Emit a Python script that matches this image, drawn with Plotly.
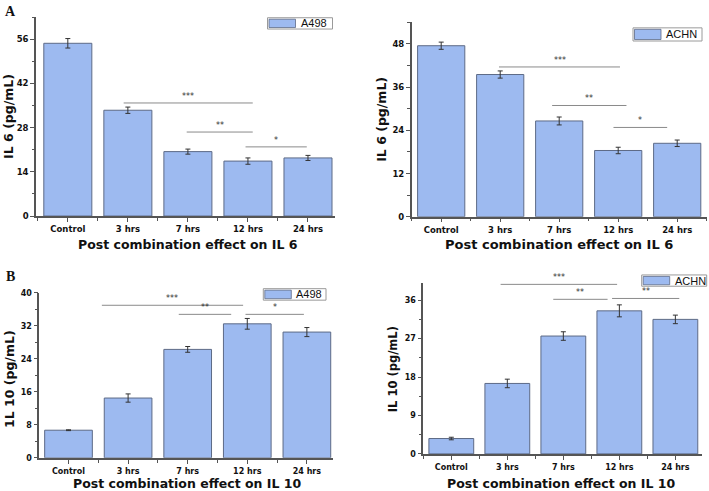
import plotly.graph_objects as go

W, H = 709, 491

categories = ["Control", "3 hrs", "7 hrs", "12 hrs", "24 hrs"]

# Panel A: IL 6
il6_a498 = [54.7, 33.5, 20.4, 17.4, 18.4]
il6_a498_err = [1.5, 1.0, 0.8, 1.0, 0.8]
il6_achn = [47.5, 39.5, 26.6, 18.4, 20.4]
il6_achn_err = [1.0, 1.0, 1.1, 0.9, 0.9]

# Panel B: IL 10
il10_a498 = [6.7, 14.5, 26.3, 32.5, 30.5]
il10_a498_err = [0.1, 1.0, 0.7, 1.3, 1.1]
il10_achn = [3.6, 16.5, 27.6, 33.5, 31.5]
il10_achn_err = [0.3, 1.0, 1.0, 1.4, 1.0]

# significance brackets: (start index, end index, height, label)
sig_il6_a498 = [(0.93, 3.08, 35.8, "***"), (1.98, 3.08, 26.6, "**"), (2.96, 3.98, 21.9, "*")]
sig_il6_achn = [(0.98, 3.03, 41.6, "***"), (1.88, 3.14, 30.9, "**"), (2.92, 3.83, 24.8, "*")]
sig_il10_a498 = [(0.56, 2.93, 37.0, "***"), (1.85, 2.73, 34.8, "**"), (2.97, 3.95, 34.8, "*")]
sig_il10_achn = [(0.88, 2.96, 39.7, "***"), (1.82, 2.79, 36.2, "**"), (2.87, 4.07, 36.4, "**")]


def px(x):
    return x / W


def py(y):
    return 1 - y / H


BAR = "#9dbaf0"
EDGE = "#5d6a86"
AXC = "#555555"
FONT = "DejaVu Sans"
LFONT = "Liberation Sans"

panels = [
    dict(vals=il6_a498, err=il6_a498_err, sig=sig_il6_a498, name="A498",
         xd=(36, 335), yd=(13, 216), xr=(-0.53, 4.45), yr=(0, 63.1), dt=14,
         ytitle="IL 6 (pg/mL)", ytx=(9, 115), ytsize=12.5,
         xtitle="Post combination effect on IL 6", xtx=(188, 244.5), xtsize=12.5,
         leg=(267.5, 14, 332.5, 25.5), ticksize=8.5, standoff=0),
    dict(vals=il6_achn, err=il6_achn_err, sig=sig_il6_achn, name="ACHN",
         xd=(411.7, 706.7), yd=(18.3, 216.7), xr=(-0.5, 4.5), yr=(0, 54.1), dt=12,
         ytitle="IL 6 (pg/mL)", ytx=(382, 118), ytsize=12.5,
         xtitle="Post combination effect on IL 6", xtx=(559, 244.5), xtsize=13,
         leg=(633, 24.3, 702, 37.7), ticksize=8.5, standoff=0),
    dict(vals=il10_a498, err=il10_a498_err, sig=sig_il10_a498, name="A498",
         xd=(39.3, 333.1), yd=(294.3, 462.3), xr=(-0.49, 4.44), yr=(0, 40), dt=8,
         ytitle="1L 10 (pg/mL)", ytx=(10, 382), ytsize=12.5,
         xtitle="Post combination effect on IL 10", xtx=(187.5, 488.5), xtsize=12.5,
         leg=(263.3, 290, 326, 301.7), ticksize=8, standoff=1),
    dict(vals=il10_achn, err=il10_achn_err, sig=sig_il10_achn, name="ACHN",
         xd=(423.3, 701.7), yd=(284.3, 458.3), xr=(-0.5, 4.47), yr=(0, 40), dt=9,
         ytitle="IL 10 (pg/mL)", ytx=(393, 372), ytsize=11.5,
         xtitle="Post combination effect on IL 10", xtx=(561, 488), xtsize=12.5,
         leg=(641.7, 276, 706.7, 287.5), ticksize=8, standoff=1),
]

fig = go.Figure()
shapes = []
annotations = []
xidx = list(range(len(categories)))

for i, p in enumerate(panels):
    n = "" if i == 0 else str(i + 1)
    xa, ya = "x" + n, "y" + n
    fig.add_trace(go.Bar(
        x=xidx, y=p["vals"], width=0.8, name=p["name"],
        marker=dict(color=BAR, line=dict(color=EDGE, width=1)),
        error_y=dict(type="data", array=p["err"], color="#333333", thickness=1, width=2.5),
        xaxis=xa, yaxis=ya, showlegend=False,
    ))
    tickfont = dict(family=FONT, size=p["ticksize"], color="#111111", weight="bold")
    fig.layout["xaxis" + n] = dict(
        domain=[px(p["xd"][0]), px(p["xd"][1])], range=list(p["xr"]), anchor=ya,
        tickvals=xidx, ticktext=categories, ticks="outside", ticklen=4, tickcolor=AXC,
        showline=True, linecolor=AXC, linewidth=1.5, showgrid=False, zeroline=False,
        tickfont=tickfont, ticklabelstandoff=p["standoff"],
        minor=dict(tickvals=[k + 0.5 for k in range(-1, len(categories))], ticks="outside",
                   ticklen=3, tickcolor=AXC, showgrid=False),
    )
    fig.layout["yaxis" + n] = dict(
        domain=[py(p["yd"][1]), py(p["yd"][0])], range=list(p["yr"]), anchor=xa,
        dtick=p["dt"], tick0=0, ticks="outside", ticklen=4, tickcolor=AXC,
        showline=True, linecolor=AXC, linewidth=1.5, showgrid=False, zeroline=False,
        tickfont=tickfont,
        minor=dict(dtick=p["dt"] / 2, tick0=0, ticks="outside", ticklen=2.5,
                   tickcolor=AXC, showgrid=False),
    )
    # significance brackets
    for (x0, x1, yv, lab) in p["sig"]:
        shapes.append(dict(type="line", xref=xa, yref=ya, x0=x0, x1=x1, y0=yv, y1=yv,
                           line=dict(color="#8a8a8a", width=1)))
        annotations.append(dict(xref=xa, yref=ya, x=(x0 + x1) / 2, y=yv, text=lab,
                                showarrow=False, yanchor="bottom", yshift=0,
                                font=dict(family=FONT, size=8, color="#333333")))
    # legend box
    lx0, ly0, lx1, ly1 = p["leg"]
    shapes.append(dict(type="rect", xref="paper", yref="paper",
                       x0=px(lx0), x1=px(lx1), y0=py(ly1), y1=py(ly0),
                       line=dict(color="#9a9a9a", width=1), fillcolor="white"))
    shapes.append(dict(type="rect", xref="paper", yref="paper",
                       x0=px(lx0 + 1.5), x1=px(lx0 + 28), y0=py(ly1 - 1.5), y1=py(ly0 + 1.5),
                       line=dict(color=EDGE, width=0.8), fillcolor=BAR))
    annotations.append(dict(xref="paper", yref="paper", x=px(lx0 + 31), y=py((ly0 + ly1) / 2),
                            text=p["name"], showarrow=False, xanchor="left", yanchor="middle",
                            font=dict(family=LFONT, size=11, color="#111111")))
    # axis titles
    annotations.append(dict(xref="paper", yref="paper", x=px(p["ytx"][0]), y=py(p["ytx"][1]),
                            text=p["ytitle"], showarrow=False, textangle=-90,
                            xanchor="center", yanchor="middle",
                            font=dict(family=FONT, size=p["ytsize"], color="#111111", weight="bold")))
    annotations.append(dict(xref="paper", yref="paper", x=px(p["xtx"][0]), y=py(p["xtx"][1]),
                            text=p["xtitle"], showarrow=False, borderpad=0,
                            xanchor="center", yanchor="middle",
                            font=dict(family=FONT, size=p["xtsize"], color="#111111", weight="bold")))

# panel letters
annotations.append(dict(xref="paper", yref="paper", x=px(10), y=py(8), text="A", showarrow=False,
                        xanchor="center", yanchor="middle",
                        font=dict(family="Liberation Serif", size=14, color="#111111", weight="bold")))
annotations.append(dict(xref="paper", yref="paper", x=px(10), y=py(278), text="B", showarrow=False,
                        xanchor="center", yanchor="middle",
                        font=dict(family="Liberation Serif", size=14, color="#111111", weight="bold")))

fig.update_layout(
    width=W, height=H, margin=dict(l=0, r=0, t=0, b=0),
    paper_bgcolor="white", plot_bgcolor="white",
    shapes=shapes, annotations=annotations, bargap=0.2,
)

fig.write_html("out.html")
